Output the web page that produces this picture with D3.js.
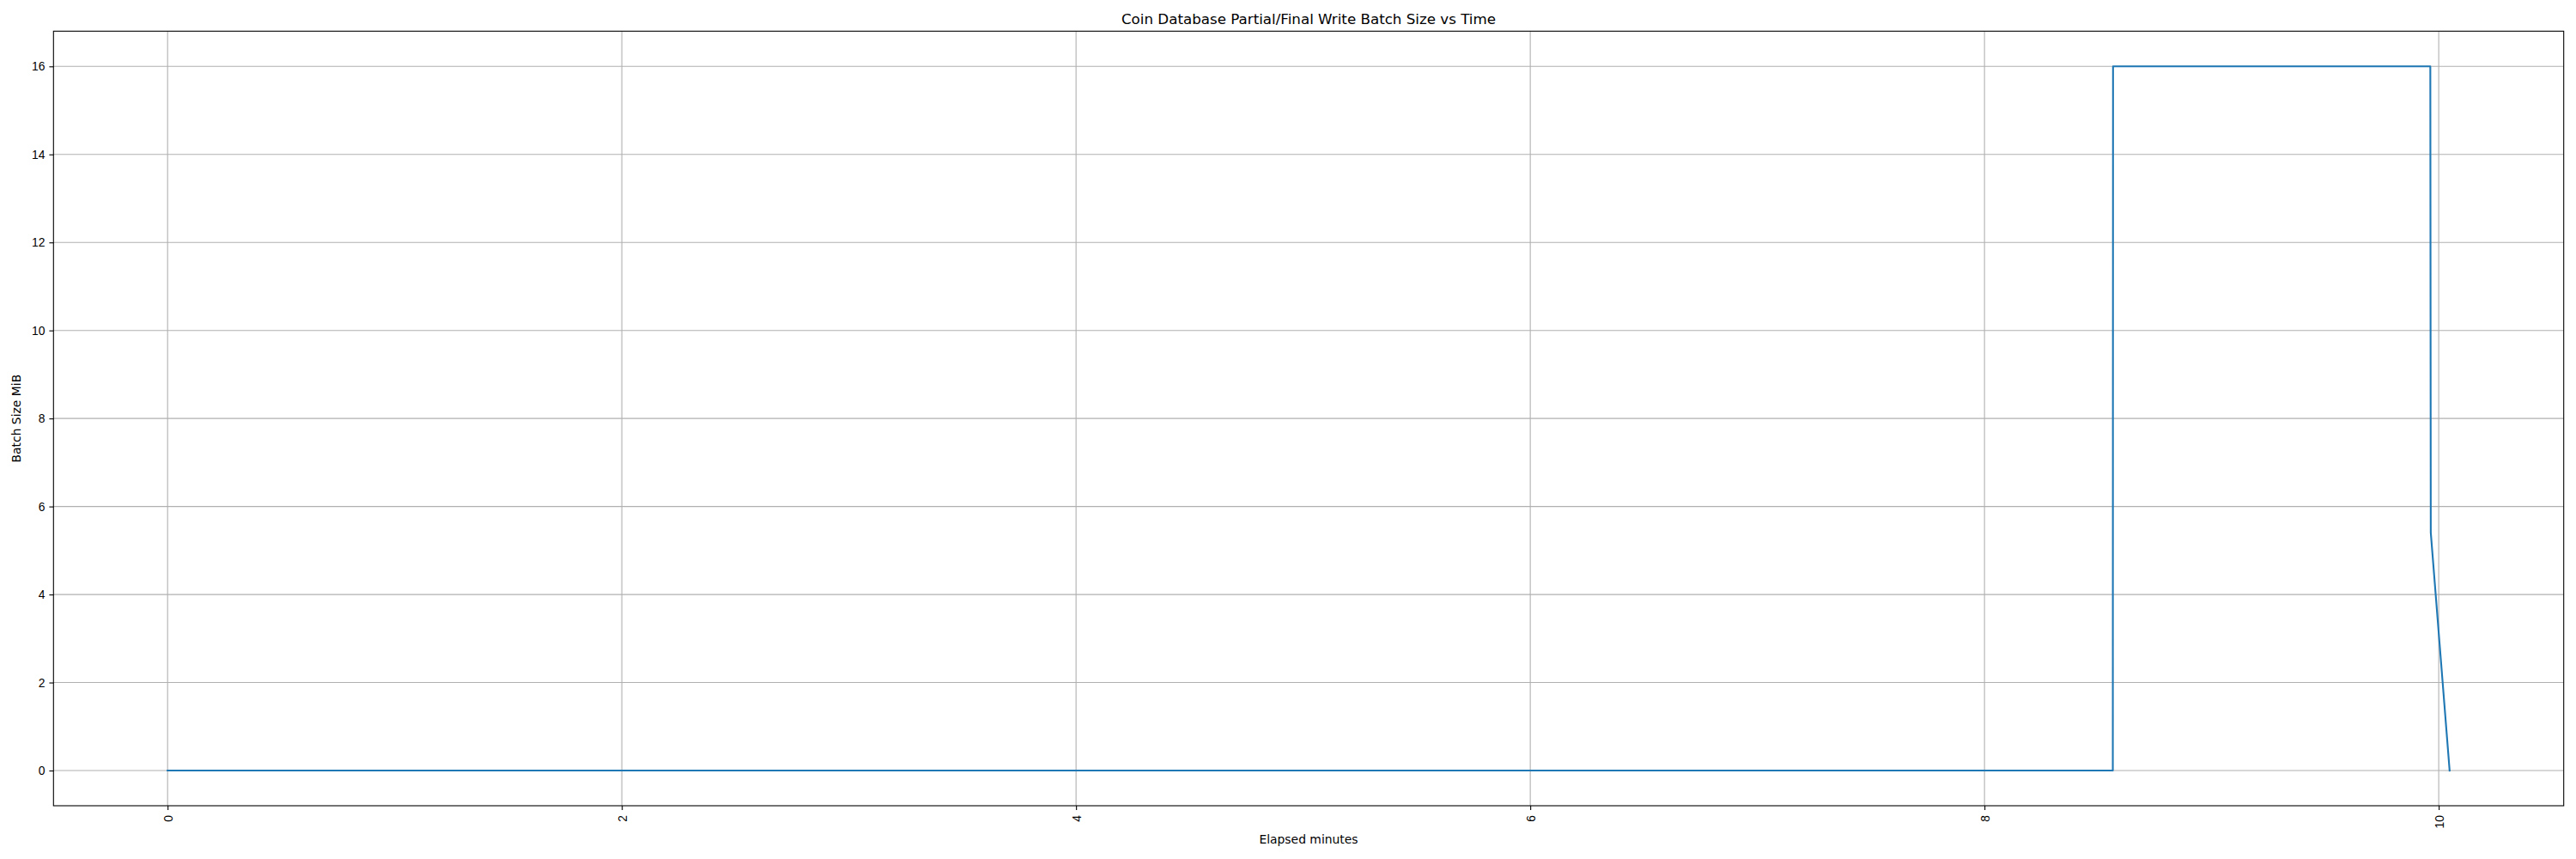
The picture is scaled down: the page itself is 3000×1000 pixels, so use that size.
<!DOCTYPE html>
<html>
<head>
<meta charset="utf-8">
<script src="https://cdn.jsdelivr.net/npm/d3@7"></script>
<style>
  body { margin: 0; background: #fff; }
  svg { display: block; font-family: "DejaVu Sans", sans-serif; }
</style>
</head>
<body>
<svg id="chart" width="3000" height="1000"></svg>
<script>
// Data
const minutes  = [0, 8.565, 8.566, 9.963, 9.965, 10.048];
const batchMiB = [0, 0, 16, 16, 5.41, 0];
const xTicks = [0, 2, 4, 6, 8, 10];
const yTicks = [0, 2, 4, 6, 8, 10, 12, 14, 16];

const margin = {top: 36.3, right: 14.3, bottom: 62, left: 62.3};
const W = 3000, H = 1000;
const width = W - margin.left - margin.right;
const height = H - margin.top - margin.bottom;

const svg = d3.select("#chart");
svg.append("rect").attr("width", W).attr("height", H).attr("fill", "#fff");

const g = svg.append("g")
    .attr("transform", `translate(${margin.left},${margin.top})`);

// matplotlib-like 5% padding around data
const [x0, x1] = d3.extent(minutes);
const [y0, y1] = d3.extent(batchMiB);
const xPad = (x1 - x0) * 0.05, yPad = (y1 - y0) * 0.05;

const x = d3.scaleLinear().domain([x0 - xPad, x1 + xPad]).range([0, width]);
const y = d3.scaleLinear().domain([y0 - yPad, y1 + yPad]).range([height, 0]);

// grid
g.append("g").selectAll("line").data(xTicks).join("line")
    .attr("x1", d => x(d)).attr("x2", d => x(d))
    .attr("y1", 0).attr("y2", height)
    .attr("stroke", "#b0b0b0").attr("stroke-width", 1.1);
g.append("g").selectAll("line").data(yTicks).join("line")
    .attr("y1", d => y(d)).attr("y2", d => y(d))
    .attr("x1", 0).attr("x2", width)
    .attr("stroke", "#b0b0b0").attr("stroke-width", 1.1);

// the series
const line = d3.line().x((d, i) => x(minutes[i])).y(d => y(d));
g.append("path")
    .datum(batchMiB)
    .attr("d", line)
    .attr("fill", "none")
    .attr("stroke", "#1f77b4")
    .attr("stroke-width", 2.1)
    .attr("stroke-linejoin", "round")
    .attr("stroke-linecap", "square");

// axes
const xAxis = g.append("g")
    .attr("transform", `translate(0,${height})`)
    .call(d3.axisBottom(x).tickValues(xTicks).tickSize(4.9).tickPadding(0).tickFormat(d3.format("d")));
xAxis.selectAll("text")
    .attr("font-size", 13.9)
    .attr("fill", "#000")
    .attr("text-anchor", "end")
    .attr("dominant-baseline", "central")
    .attr("transform", "translate(0,11) rotate(-90)")
    .attr("y", 0).attr("dy", null).attr("x", 0);

const yAxis = g.append("g")
    .call(d3.axisLeft(y).tickValues(yTicks).tickSize(4.9).tickPadding(4.9).tickFormat(d3.format("d")));
yAxis.selectAll("text").attr("font-size", 13.9).attr("fill", "#000");

[xAxis, yAxis].forEach(a => {
  a.select(".domain").remove();
  a.selectAll(".tick line").attr("stroke", "#000").attr("stroke-width", 1.1);
});

// frame
g.append("rect")
    .attr("width", width).attr("height", height)
    .attr("fill", "none").attr("stroke", "#000").attr("stroke-width", 1.1);

// labels
svg.append("text")
    .attr("x", margin.left + width / 2).attr("y", 28.3)
    .attr("text-anchor", "middle").attr("font-size", 16.7)
    .text("Coin Database Partial/Final Write Batch Size vs Time");

svg.append("text")
    .attr("x", margin.left + width / 2).attr("y", 982)
    .attr("text-anchor", "middle").attr("font-size", 13.9)
    .text("Elapsed minutes");

svg.append("text")
    .attr("transform", `translate(24.3,${margin.top + height / 2}) rotate(-90)`)
    .attr("text-anchor", "middle").attr("font-size", 13.9)
    .text("Batch Size MiB");
</script>
</body>
</html>
